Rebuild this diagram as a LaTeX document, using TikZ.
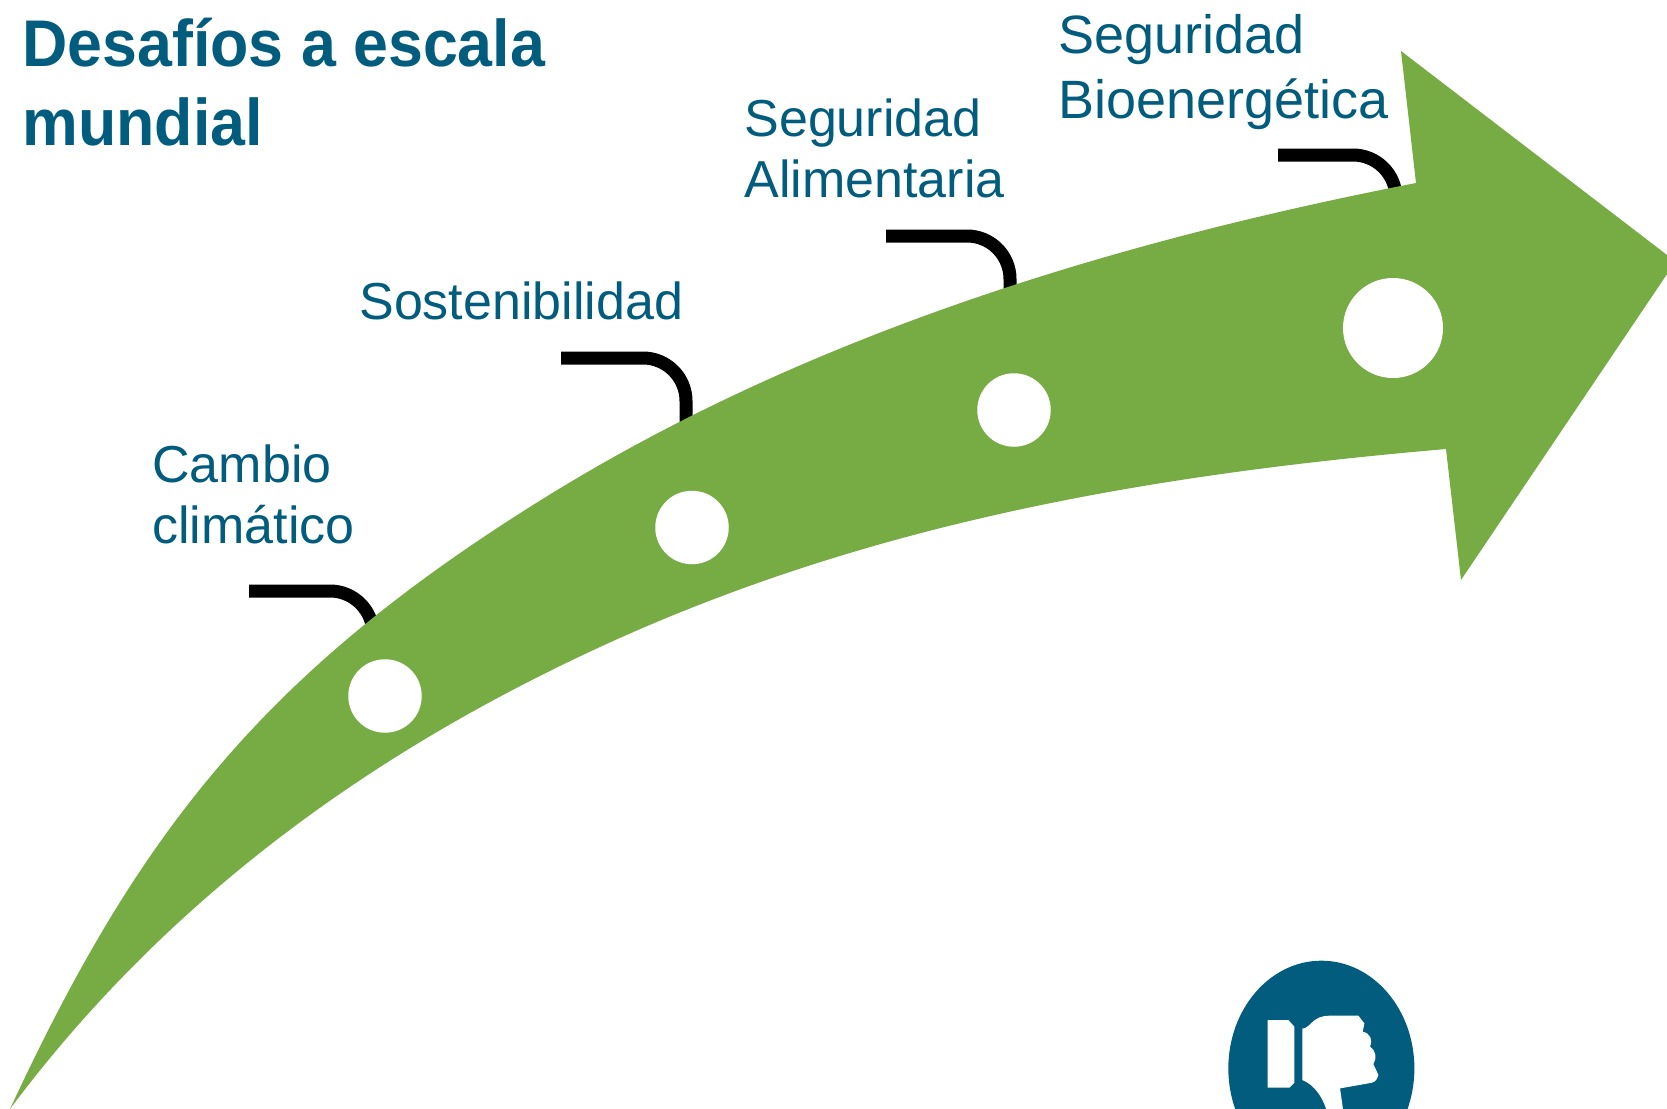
\documentclass[tikz,border=0pt]{standalone}
\usepackage{fontspec}
\setmainfont{Liberation Sans}
\newfontfamily\headfont[FakeStretch=0.95]{Liberation Sans}
\usetikzlibrary{positioning}
\definecolor{deepblue}{HTML}{015C7E}
\definecolor{leafgreen}{HTML}{77AB43}
\begin{document}
\begin{tikzpicture}[
  x=0.5pt,y=-0.5pt,
  lab/.style={text=deepblue,font=\fontsize{26}{30.3}\selectfont,align=left,anchor=north west,inner sep=0pt},
  head/.style={text=deepblue,font=\headfont\bfseries\fontsize{33}{39.5}\selectfont,align=left,anchor=north west,inner sep=0pt},
  dot/.style={circle,fill=white,minimum size=#1,inner sep=0pt},
  leader/.style={draw=black,line width=6.5pt,rounded corners=21.5pt}]
  \clip (0,0) rectangle (1667,1109);
  % draw title and labels
  \node[head] (title) at (22,18) {Desafíos a escala\\mundial};
  \node[lab] (l1) at (152,444.5) {Cambio\\climático};
  \node[lab] (l2) at (359,281) {Sostenibilidad};
  \node[lab] (l3) at (744,98.5) {Seguridad\\Alimentaria};
  \node[lab,font=\fontsize{27}{32.5}\selectfont] (l4) at (1058,14) {Seguridad\\Bioenergética};
  % draw leader lines, ends hidden below the arrow
  \foreach \i/\xa/\ya/\xb/\yb in {1/249/591/373/650,2/561/358/686/440,3/886/236/1010/300,4/1278/155/1396/215} {
    \coordinate (a\i) at (\xa,\ya);
    \coordinate (b\i) at (\xb,\yb);
    \draw[leader] (a\i) -| (b\i);
  }
  % draw the big arrow
  \fill[leafgreen] (10,1109)
    .. controls (137,836) and (260,675) .. (541,500)
    .. controls (804,336) and (1112,242) .. (1416,183)
    -- (1401,51) -- (1675.5,261.5) -- (1461,580) -- (1446,449)
    .. controls (1157,474) and (873,521) .. (600,647)
    .. controls (418,731) and (190,868) .. cycle;
  % draw the dots
  \foreach \i/\x/\y/\d in {1/385/696/73.5,2/692/527.5/73.5,3/1014/410/73.5,4/1393/328/100} {
    \node[dot=\d*0.5pt] (d\i) at (\x,\y) {};
  }
  % draw the thumb badge
  \begin{scope}[shift={(1180,930)},x=0.1667pt,y=-0.1667pt]
    \fill[deepblue] (424,415) ellipse [x radius=279,y radius=323];
    \fill[white] (263,270) -- (325,270) -- (343,290) -- (343,458) -- (328,473) -- (263,473) -- cycle;
    \fill[white] (367,296) .. controls (395,292) and (395,257) .. (450,257)
      -- (535,257) -- (553,280) -- (548,305) .. controls (572,310) and (578,330) .. (570,350)
      .. controls (590,365) and (590,385) .. (580,402) -- (595,435)
      .. controls (590,455) and (580,458) .. (565,460) -- (480,475)
      -- (492,560) -- (445,560) .. controls (432,505) and (405,465) .. (367,450) -- cycle;
  \end{scope}
\end{tikzpicture}
\end{document}
